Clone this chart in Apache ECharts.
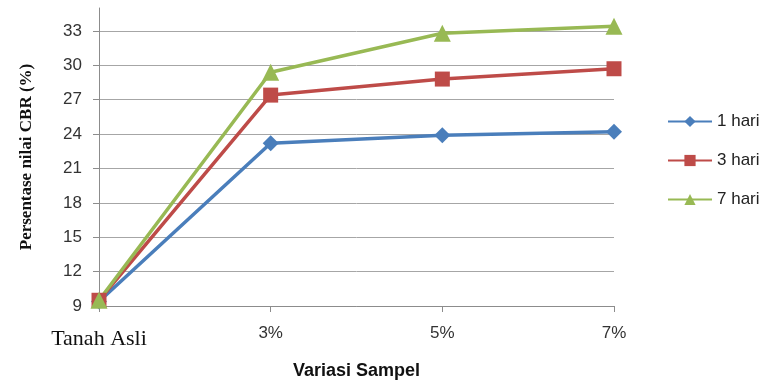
<!DOCTYPE html>
<html>
<head>
<meta charset="utf-8">
<script src="https://cdn.jsdelivr.net/npm/echarts@6/dist/echarts.min.js"></script>
<style>
html,body{margin:0;padding:0;background:#fff;}
#chart{width:764px;height:385px;}
</style>
</head>
<body>
<div id="chart"></div>
<script>
// data
var kategori = ['Tanah Asli', '3%', '5%', '7%'];
var hari1 = [9.4, 23.2, 23.9, 24.2];
var hari3 = [9.5, 27.4, 28.8, 29.7];
var hari7 = [9.5, 29.4, 32.8, 33.4];

var chart = echarts.init(document.getElementById('chart'));

function seri(nama, data, warna, simbol, ukuran) {
    return {
        name: nama,
        type: 'line',
        data: data,
        symbol: simbol,
        symbolSize: ukuran,
        showAllSymbol: true,
        lineStyle: {color: warna, width: 3.5},
        itemStyle: {color: warna}
    };
}

var option = {
    animation: false,
    grid: {left: 99, right: 150, top: 8, bottom: 72},
    legend: {
        orient: 'vertical',
        left: 662,
        top: 108,
        itemWidth: 44,
        itemHeight: 14,
        itemGap: 22,
        textStyle: {fontFamily: 'Liberation Sans', fontSize: 17, color: '#222'},
        data: ['1 hari', '3 hari', '7 hari']
    },
    xAxis: {
        type: 'category',
        data: kategori,
        boundaryGap: false,
        name: 'Variasi Sampel',
        nameLocation: 'middle',
        nameGap: 56,
        nameTextStyle: {fontFamily: 'Liberation Sans', fontWeight: 'bold', fontSize: 18, color: '#111'},
        axisLine: {lineStyle: {color: '#8c8c8c', width: 1}},
        axisTick: {show: true, length: 6, lineStyle: {color: '#8c8c8c'}},
        axisLabel: {
            margin: 19,
            fontFamily: 'Liberation Sans',
            fontSize: 17,
            color: '#333',
            formatter: function (v, i) {
                return i === 0 ? '{a|' + v + '}' : v;
            },
            rich: {
                a: {fontFamily: 'Liberation Serif', fontSize: 22, color: '#111', padding: [3, 0, 0, 0]}
            }
        },
        splitLine: {show: false}
    },
    yAxis: {
        type: 'value',
        min: 9,
        max: 35,
        interval: 3,
        name: 'Persentase nilai CBR (%)',
        nameLocation: 'middle',
        nameGap: 64,
        nameTextStyle: {fontFamily: 'Liberation Serif', fontWeight: 'bold', fontSize: 17, color: '#111'},
        axisLine: {show: true, lineStyle: {color: '#8c8c8c', width: 1}},
        axisTick: {show: true, length: 6, lineStyle: {color: '#8c8c8c'}},
        axisLabel: {
            margin: 17,
            fontFamily: 'Liberation Sans',
            fontSize: 17,
            color: '#333',
            showMaxLabel: false
        },
        splitLine: {show: true, showMaxLine: false, lineStyle: {color: '#a6a6a6', width: 1}}
    },
    series: [
        seri('1 hari', hari1, '#4a7ebb', 'diamond', 16),
        seri('3 hari', hari3, '#be4b48', 'rect', 15),
        seri('7 hari', hari7, '#98b954', 'triangle', 17)
    ]
};
chart.setOption(option);
</script>
</body>
</html>
